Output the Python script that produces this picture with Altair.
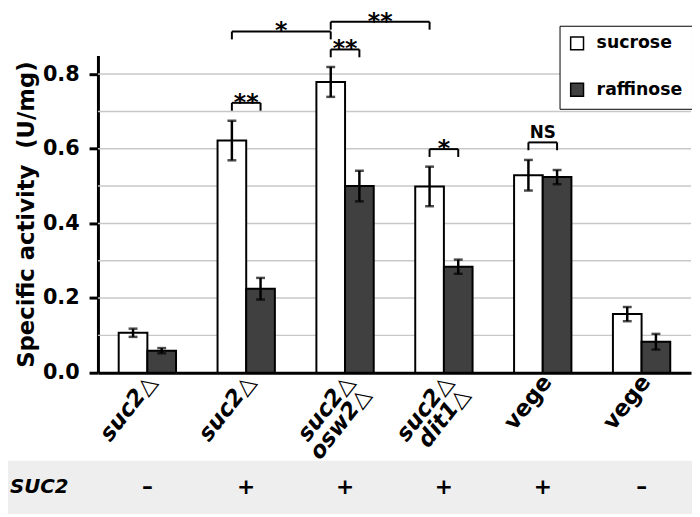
import json
import altair as alt
import pandas as pd

# ---- data ----
groups = ["suc2△", "suc2△", "suc2△\nosw2△", "suc2△\ndit1△", "vege", "vege"]
suc2_row = ["–", "+", "+", "+", "+", "–"]
series = ["sucrose", "raffinose"]
sucrose = [0.107, 0.622, 0.779, 0.499, 0.529, 0.157]
sucrose_err = [0.011, 0.053, 0.040, 0.053, 0.041, 0.019]
raffinose = [0.059, 0.225, 0.500, 0.284, 0.524, 0.083]
raffinose_err = [0.007, 0.029, 0.041, 0.019, 0.019, 0.021]
y_ticks = [0.0, 0.2, 0.4, 0.6, 0.8]
grid_values = [0.1, 0.2, 0.3, 0.4, 0.5, 0.6, 0.7, 0.8]

# significance brackets
br_left_group = [1, 2, 1, 2, 3, 4]
br_left_series = ["sucrose", "sucrose", "sucrose", "sucrose", "sucrose", "sucrose"]
br_right_group = [1, 2, 2, 3, 3, 4]
br_right_series = ["raffinose", "raffinose", "sucrose", "sucrose", "raffinose", "raffinose"]
br_height = [0.723, 0.866, 0.914, 0.94, 0.599, 0.617]
br_label = ["**", "**", "*", "**", "*", "NS"]

FONT = "DejaVu Sans"
BAR_W = 0.29   # bar width in group units
LEG = 0.021    # bracket leg length

def bar_center(g, s):
    return g - BAR_W / 2 if s == "sucrose" else g + BAR_W / 2

rows = []
for i in range(len(groups)):
    for s, vals, errs in (("sucrose", sucrose, sucrose_err), ("raffinose", raffinose, raffinose_err)):
        x0 = i - BAR_W if s == "sucrose" else i
        rows.append(dict(g=i, series=s, value=vals[i], err=errs[i],
                         x0=x0, x1=x0 + BAR_W, xc=x0 + BAR_W / 2,
                         lo=vals[i] - errs[i], hi=vals[i] + errs[i]))
bars_df = pd.DataFrame(rows)

br_rows = []
for a, sa, b, sb, h, lab in zip(br_left_group, br_left_series, br_right_group,
                                br_right_series, br_height, br_label):
    xa, xb = bar_center(a, sa), bar_center(b, sb)
    br_rows.append(dict(xa=xa, xb=xb, xm=(xa + xb) / 2, h=h, h0=h - LEG, label=lab))
br_df = pd.DataFrame(br_rows)

legs_df = pd.concat([
    br_df[["xa", "h", "h0"]].rename(columns={"xa": "x"}),
    br_df[["xb", "h", "h0"]].rename(columns={"xb": "x"}),
])

table_df = pd.DataFrame({"g": list(range(len(groups))), "sign": suc2_row})
grid_df = pd.DataFrame({"v": grid_values})

label_lists = [g.split("\n") for g in groups]
label_expr = json.dumps(label_lists, ensure_ascii=False) + "[round(datum.value)]"

xscale = alt.Scale(domain=[-0.5, 5.5], nice=False, zero=False)
yscale = alt.Scale(domain=[0, 0.85], nice=False, zero=True)

x_axis = alt.Axis(
    values=list(range(len(groups))), title=None, grid=False, ticks=False,
    labelExpr=label_expr, labelAngle=-52, labelAlign="right", labelBaseline="middle",
    labelFontSize=23, labelFontWeight="bold", labelFont=FONT,
    labelFontStyle={"condition": {"test": "datum.value >= 4", "value": "normal"}, "value": "italic"},
    labelLineHeight=21, labelPadding=5, labelOffset=4, labelOverlap=False,
    labelBound=False, labelFlush=False,
    domainColor="black", domainWidth=3, labelColor="black",
)
y_axis = alt.Axis(
    values=y_ticks, format=".1f", grid=False,
    title="Specific activity\u00a0 (U/mg)",
    titleFont=FONT, titleFontSize=23, titleFontWeight="bold", titleColor="black",
    titlePadding=4, labelFont=FONT, labelFontSize=21, labelFontWeight="bold",
    labelColor="black", labelPadding=10, tickSize=9, tickWidth=3, tickColor="black",
    ticks=True, domainColor="black", domainWidth=3,
)

base = alt.Chart(bars_df)

grid = alt.Chart(grid_df).mark_rule(color="#c8c8c8", strokeWidth=1.5).encode(
    y=alt.Y("v:Q", scale=yscale, axis=y_axis)
)

bars = base.mark_bar(stroke="black", strokeWidth=2).encode(
    x=alt.X("x0:Q", scale=xscale, axis=x_axis),
    x2="x1:Q",
    y=alt.Y("value:Q", scale=yscale, axis=y_axis),
    y2=alt.datum(0),
    fill=alt.Fill("series:N", scale=alt.Scale(domain=series, range=["white", "#404040"]),
                  legend=alt.Legend(
                      title=None, orient="none", legendX=467, legendY=-30,
                      symbolType="square", symbolSize=169, symbolStrokeColor="black",
                      symbolStrokeWidth=1.5, labelFont=FONT, labelFontSize=17.5,
                      labelFontWeight="bold", labelColor="black", padding=9,
                      rowPadding=27, labelOffset=11, strokeColor="black",
                      fillColor="white")),
)

err_rule = base.mark_rule(color="black", strokeWidth=2.5).encode(
    x=alt.X("xc:Q", scale=xscale), y=alt.Y("lo:Q", scale=yscale), y2="hi:Q"
)
cap_hi = base.mark_tick(color="black", thickness=2.5, size=9, orient="horizontal").encode(
    x=alt.X("xc:Q", scale=xscale), y=alt.Y("hi:Q", scale=yscale)
)
cap_lo = base.mark_tick(color="black", thickness=2.5, size=9, orient="horizontal").encode(
    x=alt.X("xc:Q", scale=xscale), y=alt.Y("lo:Q", scale=yscale)
)

br = alt.Chart(br_df)
br_h = br.mark_rule(color="black", strokeWidth=2).encode(
    x=alt.X("xa:Q", scale=xscale), x2="xb:Q", y=alt.Y("h:Q", scale=yscale)
)
br_v = alt.Chart(legs_df).mark_rule(color="black", strokeWidth=2).encode(
    x=alt.X("x:Q", scale=xscale), y=alt.Y("h:Q", scale=yscale), y2="h0:Q"
)
stars = br.transform_filter("datum.label != 'NS'").mark_text(
    font=FONT, fontSize=24, fontWeight="bold", color="black", baseline="alphabetic", dy=7
).encode(x=alt.X("xm:Q", scale=xscale), y=alt.Y("h:Q", scale=yscale), text="label:N")
ns = br.transform_filter("datum.label == 'NS'").mark_text(
    font=FONT, fontSize=17, fontWeight="bold", color="black", baseline="alphabetic", dy=-4
).encode(x=alt.X("xm:Q", scale=xscale), y=alt.Y("h:Q", scale=yscale), text="label:N")

band = alt.Chart(pd.DataFrame({"k": [0]})).mark_rect(color="#eeeeee").encode(
    x=alt.value(-91), x2=alt.value(601), y=alt.value(410), y2=alt.value(464)
)
suc2_title = alt.Chart(pd.DataFrame({"t": ["SUC2"]})).mark_text(
    font=FONT, fontSize=20, fontWeight="bold", fontStyle="italic", color="black",
    align="left", baseline="middle"
).encode(x=alt.value(-89), y=alt.value(437), text="t:N")
signs = alt.Chart(table_df).mark_text(
    font=FONT, fontSize=22, fontWeight="bold", color="black", baseline="middle"
).encode(x=alt.X("g:Q", scale=xscale), y=alt.value(437), text="sign:N")

chart = alt.layer(
    grid, bars, err_rule, cap_hi, cap_lo, br_h, br_v, stars, ns, band, suc2_title, signs
).properties(
    width=600, height=321,
    autosize=alt.AutoSizeParams(type="none"),
    padding={"left": 91, "top": 45, "right": 1, "bottom": 143},
).configure_view(stroke=None)

chart.save("out.html", embed_options={"renderer": "svg", "actions": False})
